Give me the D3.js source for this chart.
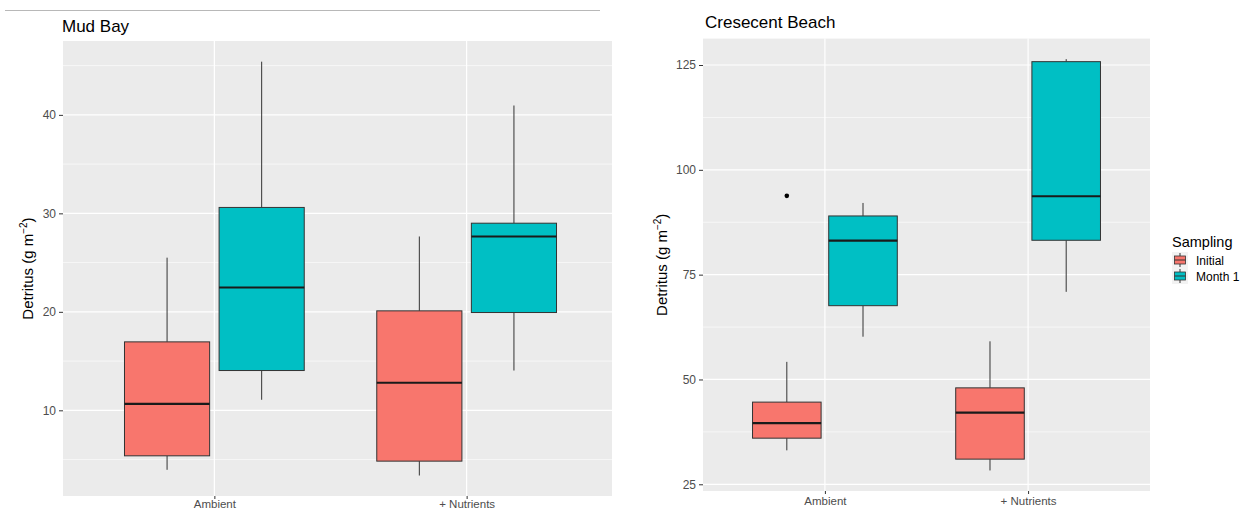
<!DOCTYPE html>
<html><head><meta charset="utf-8">
<script src="https://cdn.jsdelivr.net/npm/d3@7"></script>
<style>
body{margin:0;background:#fff;}
svg{display:block;font-family:"Liberation Sans",Arial,Helvetica,sans-serif;}
</style>
</head><body>
<svg id="chart" width="1248" height="512"></svg>
<script>
// ---- data ----
const treatments = ["Ambient", "+ Nutrients"];
const samplings = ["Initial", "Month 1"];
const samplingColors = ["#F8766D", "#00BFC4"];
// box order: Ambient/Initial, Ambient/Month 1, +Nutrients/Initial, +Nutrients/Month 1
const mudBayLow    = [3.96, 11.07, 3.38, 14.04];
const mudBayQ1     = [5.38, 14.04, 4.84, 19.93];
const mudBayMedian = [10.66, 22.47, 12.8, 27.65];
const mudBayQ3     = [16.95, 30.6, 20.1, 29.0];
const mudBayHigh   = [25.5, 45.4, 27.65, 40.95];
const mudBayTicks  = [10, 20, 30, 40];
const mudBayMinor  = [5, 15, 25, 35, 45];

const crescentLow    = [33.1, 60.2, 28.3, 70.9];
const crescentQ1     = [36.0, 67.6, 31.0, 83.2];
const crescentMedian = [39.6, 83.1, 42.1, 93.7];
const crescentQ3     = [44.6, 89.0, 48.0, 125.8];
const crescentHigh   = [54.2, 92.1, 59.1, 126.4];
const crescentOutlierBox   = [0];
const crescentOutlierValue = [93.8];
const crescentTicks  = [25, 50, 75, 100, 125];
const crescentMinor  = [37.5, 62.5, 87.5, 112.5];

const svg = d3.select("#chart");

// faint frame line at top (from the composite)
svg.append("line").attr("x1", 5).attr("x2", 600).attr("y1", 10.5).attr("y2", 10.5)
  .attr("stroke", "#b8b8b8").attr("stroke-width", 1);

function buildBoxes(low, q1, med, q3, high) {
  return low.map((d, i) => ({
    t: Math.floor(i / 2), s: i % 2,
    low: low[i], q1: q1[i], med: med[i], q3: q3[i], high: high[i]
  }));
}

function drawPanel(cfg) {
  const g = svg.append("g");
  const x = d3.scaleLinear().domain([0.4, 2.6]).range([cfg.x0, cfg.x1]);
  const y = d3.scaleLinear().domain(cfg.yDomain).range([cfg.y1, cfg.y0]);
  const clipRight = cfg.clipX != null ? cfg.clipX : cfg.x1;

  g.append("rect").attr("x", cfg.x0).attr("y", cfg.y0)
    .attr("width", clipRight - cfg.x0).attr("height", cfg.y1 - cfg.y0)
    .attr("fill", "#EBEBEB");

  g.selectAll(".minor").data(cfg.minor.filter(v => y(v) >= cfg.y0 && y(v) <= cfg.y1)).join("line")
    .attr("x1", cfg.x0).attr("x2", clipRight)
    .attr("y1", d => y(d)).attr("y2", d => y(d))
    .attr("stroke", "#fff").attr("stroke-width", 0.6);
  g.selectAll(".major").data(cfg.ticks).join("line")
    .attr("x1", cfg.x0).attr("x2", clipRight)
    .attr("y1", d => y(d)).attr("y2", d => y(d))
    .attr("stroke", "#fff").attr("stroke-width", 1.2);
  g.selectAll(".vgrid").data(treatments).join("line")
    .attr("x1", (d, i) => x(i + 1)).attr("x2", (d, i) => x(i + 1))
    .attr("y1", cfg.y0).attr("y2", cfg.y1)
    .attr("stroke", "#fff").attr("stroke-width", 1.2);

  const yAxis = d3.axisLeft(y).tickValues(cfg.ticks).tickSize(4).tickPadding(3);
  const ya = g.append("g").attr("transform", `translate(${cfg.x0},0)`).call(yAxis);
  ya.select(".domain").remove();
  ya.selectAll(".tick line").attr("stroke", "#333");
  ya.selectAll(".tick text").attr("fill", "#4D4D4D").attr("font-size", 12)
    .attr("font-family", "Liberation Sans, Arial, sans-serif");

  const xAxis = d3.axisBottom(x).tickValues([1, 2]).tickFormat((d) => treatments[d - 1])
    .tickSize(3).tickPadding(cfg.xPad);
  const xa = g.append("g").attr("transform", `translate(0,${cfg.y1})`).call(xAxis);
  xa.select(".domain").remove();
  xa.selectAll(".tick line").attr("stroke", "#333");
  xa.selectAll(".tick text").attr("fill", "#4D4D4D").attr("font-size", 11.5)
    .attr("font-family", "Liberation Sans, Arial, sans-serif");

  const dodge = 0.75, bw = 0.9 * dodge / 2;
  const cx = d => x(d.t + 1 + (d.s === 0 ? -dodge / 4 : dodge / 4));
  const half = (x(1 + bw) - x(1)) / 2;
  const bg = g.selectAll(".box").data(cfg.boxes).join("g");
  bg.append("line").attr("x1", cx).attr("x2", cx)
    .attr("y1", d => y(d.high)).attr("y2", d => y(d.q3))
    .attr("stroke", "#333").attr("stroke-width", 1);
  bg.append("line").attr("x1", cx).attr("x2", cx)
    .attr("y1", d => y(d.q1)).attr("y2", d => y(d.low))
    .attr("stroke", "#333").attr("stroke-width", 1);
  bg.append("rect")
    .attr("x", d => cx(d) - half).attr("width", 2 * half)
    .attr("y", d => y(d.q3)).attr("height", d => y(d.q1) - y(d.q3))
    .attr("fill", d => samplingColors[d.s]).attr("stroke", "#333").attr("stroke-width", 1);
  bg.append("line")
    .attr("x1", d => cx(d) - half).attr("x2", d => cx(d) + half)
    .attr("y1", d => y(d.med)).attr("y2", d => y(d.med))
    .attr("stroke", "#1a1a1a").attr("stroke-width", 2.2);

  if (cfg.outBox) {
    g.selectAll(".out").data(cfg.outBox).join("circle")
      .attr("cx", (d) => cx(cfg.boxes[d]))
      .attr("cy", (d, i) => y(cfg.outVal[i]))
      .attr("r", 2.3).attr("fill", "#000");
  }

  const yt = g.append("text")
    .attr("transform", `translate(${cfg.ytx},${(cfg.y0 + cfg.y1) / 2}) rotate(-90)`)
    .attr("text-anchor", "middle").attr("font-size", 15).attr("fill", "#000");
  yt.append("tspan").text("Detritus (g m");
  yt.append("tspan").attr("font-size", 10).attr("dy", -6).text("\u22122");
  yt.append("tspan").attr("dy", 6).text(")");

  g.append("text").attr("x", cfg.tx).attr("y", cfg.ty)
    .attr("font-size", 17).attr("fill", "#000").text(cfg.title);
}

drawPanel({
  title: "Mud Bay", tx: 62, ty: 32,
  x0: 63, x1: 618, clipX: 612, y0: 41, y1: 496, xPad: 1,
  yDomain: [1.3, 47.5], ticks: mudBayTicks, minor: mudBayMinor,
  boxes: buildBoxes(mudBayLow, mudBayQ1, mudBayMedian, mudBayQ3, mudBayHigh),
  ytx: 33
});

drawPanel({
  title: "Cresecent Beach", tx: 705, ty: 28,
  x0: 703, x1: 1150, y0: 38.6, y1: 491, xPad: 3,
  yDomain: [23.4, 131.3], ticks: crescentTicks, minor: crescentMinor,
  boxes: buildBoxes(crescentLow, crescentQ1, crescentMedian, crescentQ3, crescentHigh),
  outBox: crescentOutlierBox, outVal: crescentOutlierValue,
  ytx: 667
});

// legend
const lg = svg.append("g").attr("transform", "translate(1172,0)");
lg.append("text").attr("x", 0).attr("y", 247).attr("font-size", 14.5).attr("fill", "#000").text("Sampling");
const items = lg.selectAll(".li").data(samplings).join("g")
  .attr("transform", (d, i) => `translate(0,${252 + i * 16})`);
items.append("rect").attr("x", 0).attr("y", 0).attr("width", 16).attr("height", 16).attr("fill", "#F2F2F2");
items.append("line").attr("x1", 8).attr("x2", 8).attr("y1", 1).attr("y2", 15).attr("stroke", "#333");
items.append("rect").attr("x", 2.5).attr("y", 4).attr("width", 11).attr("height", 8)
  .attr("fill", (d, i) => samplingColors[i]).attr("stroke", "#333").attr("stroke-width", 0.8);
items.append("line").attr("x1", 2.5).attr("x2", 13.5).attr("y1", 8).attr("y2", 8).attr("stroke", "#333").attr("stroke-width", 1);
items.append("text").attr("x", 24).attr("y", 12.5).attr("font-size", 12).attr("fill", "#000").text(d => d);
</script>
</body></html>
